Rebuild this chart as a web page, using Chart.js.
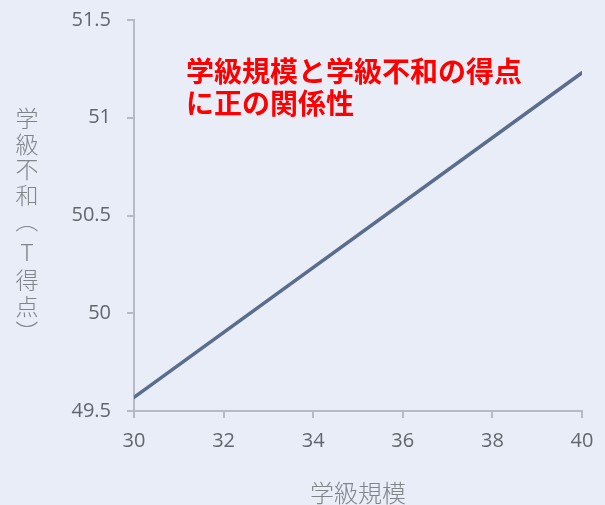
<!DOCTYPE html>
<html>
<head>
<meta charset="utf-8">
<script src="https://cdn.jsdelivr.net/npm/chart.js@4/dist/chart.umd.min.js"></script>
<style>
  html, body { margin: 0; padding: 0; background: #E9EDF8; }
  #wrap { width: 605px; height: 505px; }
</style>
</head>
<body>
<div id="wrap"><canvas id="c"></canvas></div>
<script>
// データ
const classSize = [30, 40];
const tScore = [49.57, 51.23];
const xTitle = "学級規模";
const yTitle = "学級不和（T得点）";
const noteLines = ["学級規模と学級不和の得点", "に正の関係性"];

const AXIS_COLOR = "#B6BAC3";
const TICK_COLOR = "#62666C";
const TITLE_COLOR = "#818489";
const CJK = "'Noto Sans CJK JP', sans-serif";

// 縦書きタイトルの各文字の中心 y
const yTitlePos = [118, 144, 169.5, 195, 221, 252, 280, 306, 332];

// 軸タイトルと注釈を自前で描く（縦書きのため）
const textPlugin = {
    id: "texts",
    afterDraw(chart) {
        const ctx = chart.ctx;
        const area = chart.chartArea;
        ctx.save();
        ctx.fillStyle = TITLE_COLOR;
        ctx.textAlign = "center";
        ctx.textBaseline = "middle";
        ctx.font = "300 23px " + CJK;

        // 縦書き y 軸タイトル
        Array.from(yTitle).forEach((ch, i) => {
            ctx.save();
            ctx.translate(27, yTitlePos[i]);
            if (ch === "（" || ch === "）") ctx.rotate(Math.PI / 2);
            ctx.fillText(ch, 0, 0);
            ctx.restore();
        });

        // x 軸タイトル
        ctx.font = "300 24px " + CJK;
        ctx.fillText(xTitle, (area.left + area.right) / 2, 493);

        // 注釈
        ctx.fillStyle = "#FF0000";
        ctx.textAlign = "left";
        ctx.font = "bold 28px " + CJK;
        noteLines.forEach((line, i) => ctx.fillText(line, 186, 71 + i * 32));
        ctx.restore();
    }
};

new Chart(document.getElementById("c"), {
    type: "line",
    data: {
        datasets: [{
            data: classSize.map((x, i) => ({ x: x, y: tScore[i] })),
            borderColor: "#5A6E8C",
            borderWidth: 3.5,
            borderCapStyle: "round",
            pointRadius: 0,
            fill: false
        }]
    },
    options: {
        responsive: true,
        maintainAspectRatio: false,
        animation: false,
        layout: { padding: { left: 0, top: 20, right: 23, bottom: 0 } },
        plugins: {
            legend: { display: false },
            tooltip: { enabled: false }
        },
        scales: {
            x: {
                type: "linear",
                min: 30,
                max: 40,
                ticks: {
                    stepSize: 2,
                    color: TICK_COLOR,
                    padding: 11,
                    font: { family: "'Open Sans', sans-serif", size: 20 }
                },
                grid: { drawOnChartArea: false, drawTicks: true, tickLength: 7, color: AXIS_COLOR, lineWidth: 2 },
                border: { color: AXIS_COLOR, width: 2 },
                afterFit: (scale) => { scale.height = 94; }
            },
            y: {
                min: 49.5,
                max: 51.5,
                ticks: {
                    stepSize: 0.5,
                    color: TICK_COLOR,
                    padding: 16,
                    font: { family: "'Open Sans', sans-serif", size: 20 },
                    callback: (v) => String(v)
                },
                grid: { drawOnChartArea: false, drawTicks: true, tickLength: 7, color: AXIS_COLOR, lineWidth: 2 },
                border: { color: AXIS_COLOR, width: 2 },
                afterFit: (scale) => {
                    scale.width = 134;
                    // ラベル分の余白で描画域が縮まないように
                    scale.paddingTop = 0;
                    scale.paddingBottom = 0;
                }
            }
        }
    },
    plugins: [textPlugin]
});
</script>
</body>
</html>
